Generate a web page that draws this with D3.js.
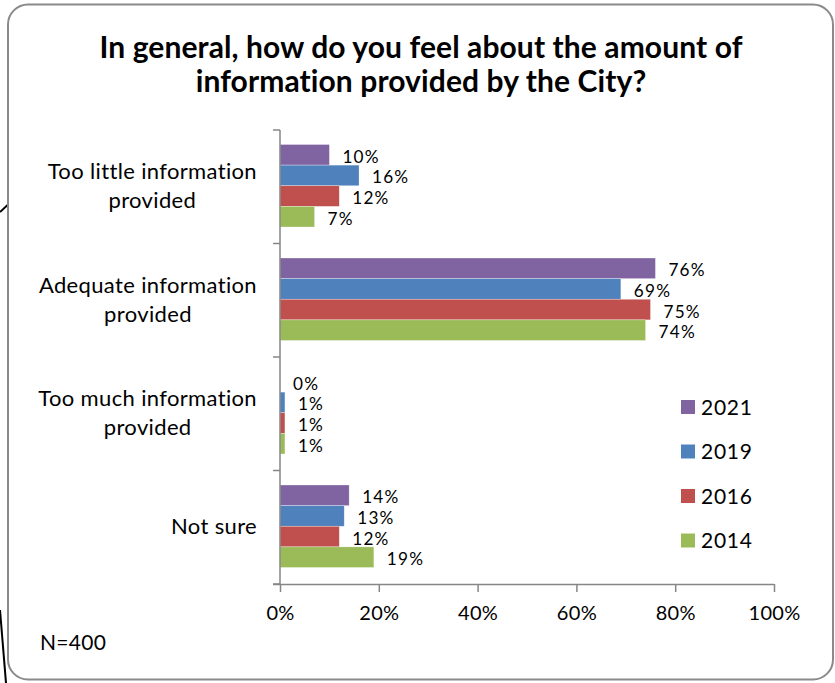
<!DOCTYPE html>
<html>
<head>
<meta charset="utf-8">
<script src="https://cdn.jsdelivr.net/npm/d3@7"></script>
<style>
  html, body { margin: 0; padding: 0; background: #fff; }
  svg { display: block; font-family: Lato, "Noto Sans", sans-serif; }
</style>
</head>
<body>
<svg id="chart" width="835" height="683"></svg>
<script>
// Survey responses (% of respondents) by year
const categories = [
  ["Too little information", "provided"],
  ["Adequate information", "provided"],
  ["Too much information", "provided"],
  ["Not sure"]
];
const years = ["2021", "2019", "2016", "2014"];
const values2021 = [10, 76, 0, 14];
const values2019 = [16, 69, 1, 13];
const values2016 = [12, 75, 1, 12];
const values2014 = [7, 74, 1, 19];
const xTicks = [0, 20, 40, 60, 80, 100];
const titleLines = [
  "In general, how do you feel about the amount of",
  "information provided by the City?"
];
const note = "N=400";

const seriesValues = [values2021, values2019, values2016, values2014];
const colors = ["#8064A2", "#4F81BD", "#C0504D", "#9BBB59"];
const catKeys = categories.map((c, i) => "c" + i);

const svg = d3.select("#chart");

// stray connector lines at the left edge
svg.append("line").attr("x1", 0).attr("y1", 212).attr("x2", 44).attr("y2", 171)
  .attr("stroke", "#000").attr("stroke-width", 2);
svg.append("line").attr("x1", 0).attr("y1", 610).attr("x2", 6).attr("y2", 683)
  .attr("stroke", "#000").attr("stroke-width", 2);

// chart frame
svg.append("rect")
  .attr("x", 8).attr("y", 4.5).attr("width", 825).attr("height", 675)
  .attr("rx", 20).attr("ry", 20)
  .attr("fill", "#fff").attr("stroke", "#8a8a8a").attr("stroke-width", 2);

// title
svg.append("text")
  .attr("x", 421).attr("text-anchor", "middle")
  .attr("font-weight", "bold").attr("font-size", 30).attr("fill", "#000")
  .attr("letter-spacing", 0.1)
  .selectAll("tspan").data(titleLines).join("tspan")
  .attr("x", 421).attr("y", (d, i) => 58 + i * 34)
  .text(d => d);

// scales
const x = d3.scaleLinear().domain([0, 100]).range([280, 774]);
const y0 = d3.scaleBand().domain(catKeys).range([130, 584]);
const y1 = d3.scaleBand().domain(years).range([14.5, 97]);

// bars
const groups = svg.append("g").selectAll("g")
  .data(catKeys).join("g")
  .attr("transform", d => `translate(0,${y0(d)})`);

groups.each(function(key, ci) {
  const g = d3.select(this);
  const rows = years.map((yr, si) => ({ yr, v: seriesValues[si][ci], color: colors[si] }));
  g.selectAll("rect").data(rows).join("rect")
    .attr("x", x(0))
    .attr("y", d => y1(d.yr))
    .attr("width", d => x(d.v) - x(0))
    .attr("height", y1.bandwidth())
    .attr("fill", d => d.color)
    .attr("stroke", d => d.v > 0 ? "#fff" : "none")
    .attr("stroke-opacity", 0.5)
    .attr("stroke-width", 0.6);
  g.selectAll("text").data(rows).join("text")
    .attr("x", d => x(d.v) + 13)
    .attr("y", d => y1(d.yr) + y1.bandwidth() / 2 + 8)
    .attr("font-size", 17.2).attr("letter-spacing", 1.2).attr("fill", "#000")
    .text(d => d.v + "%");
});

// y axis (category axis) with ticks between groups
const axisColor = "#868686";
svg.append("line").attr("x1", 280).attr("x2", 280).attr("y1", 130).attr("y2", 584)
  .attr("stroke", axisColor).attr("stroke-width", 1.5);
const boundaries = catKeys.map(k => y0(k)).concat([584]);
svg.append("g").selectAll("line").data(boundaries).join("line")
  .attr("x1", 273).attr("x2", 280)
  .attr("y1", d => d).attr("y2", d => d)
  .attr("stroke", axisColor).attr("stroke-width", 1.5);

// x axis
const xAxis = svg.append("g").attr("transform", "translate(0,584)")
  .call(d3.axisBottom(x).tickValues(xTicks).tickSize(8).tickPadding(14)
    .tickFormat(d => d + "%"));
xAxis.select(".domain").attr("stroke", axisColor).attr("stroke-width", 1.5)
  .attr("d", "M273,0.5H774");
xAxis.selectAll(".tick line").attr("stroke", axisColor).attr("stroke-width", 1.5);
xAxis.selectAll(".tick text").attr("font-size", 20).attr("letter-spacing", 0.3)
  .attr("fill", "#000")
  .attr("font-family", "Lato, 'Noto Sans', sans-serif");

// category labels: centered text block, right edge at x = 257
catKeys.forEach((k, ci) => {
  const lines = categories[ci];
  const cy = y0(k) + y0.bandwidth() / 2;
  const t = svg.append("text").attr("font-size", 22).attr("letter-spacing", 0.35)
    .attr("fill", "#000").attr("text-anchor", "middle");
  const spans = t.selectAll("tspan").data(lines).join("tspan")
    .attr("y", (d, i) => cy + 7 + (i - (lines.length - 1) / 2) * 29)
    .text(d => d);
  let w = 0;
  spans.each(function() { w = Math.max(w, this.getComputedTextLength()); });
  spans.attr("x", 257 - w / 2);
});

// legend
const legend = svg.append("g").selectAll("g").data(years).join("g")
  .attr("transform", (d, i) => `translate(681,${407 + i * 44.5})`);
legend.append("rect").attr("x", 0).attr("y", -7).attr("width", 14).attr("height", 14)
  .attr("fill", (d, i) => colors[i]);
legend.append("text").attr("x", 20).attr("y", 7.5).attr("font-size", 21)
  .attr("letter-spacing", 0.7).attr("fill", "#000").text(d => d);

// sample size note
svg.append("text").attr("x", 40).attr("y", 650).attr("font-size", 21)
  .attr("letter-spacing", 0.3).attr("fill", "#000").text(note);
</script>
</body>
</html>
